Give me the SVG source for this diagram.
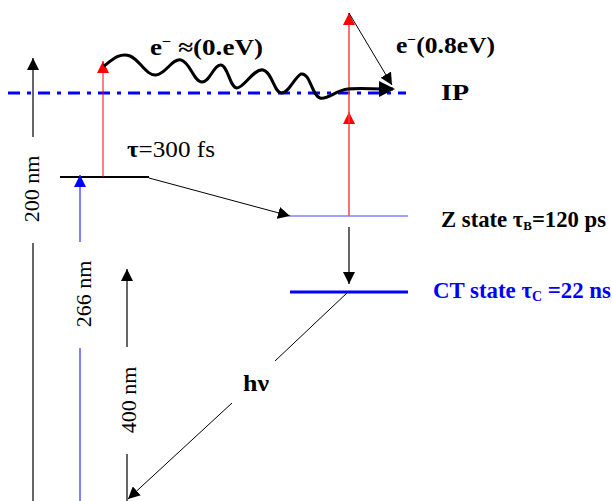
<svg xmlns="http://www.w3.org/2000/svg" width="612" height="501" viewBox="0 0 612 501">
<style>
text{font-family:"Liberation Serif","Times New Roman",serif;fill:#000}
.b{font-weight:bold}
.blue{fill:#0000ff}
.thin{fill:none;stroke:#000;stroke-width:1}
</style>
<defs>
<marker id="ak" viewBox="0 0 12 12" refX="12" refY="6" markerWidth="12" markerHeight="12" orient="auto" markerUnits="userSpaceOnUse"><path d="M0,0 L12,6 L0,12 z" fill="#000"/></marker>
<marker id="ar" viewBox="0 0 12 12" refX="12" refY="6" markerWidth="12" markerHeight="12" orient="auto" markerUnits="userSpaceOnUse"><path d="M0,0 L12,6 L0,12 z" fill="#ff0000"/></marker>
<marker id="ab" viewBox="0 0 12 12" refX="12" refY="6" markerWidth="12" markerHeight="12" orient="auto" markerUnits="userSpaceOnUse"><path d="M0,0 L12,6 L0,12 z" fill="#0000ff"/></marker>
<marker id="abig" viewBox="0 0 16 16" refX="14" refY="8" markerWidth="16" markerHeight="16" orient="auto" markerUnits="userSpaceOnUse"><path d="M0,0 L16,8 L0,16 z" fill="#000"/></marker>
</defs>
<rect width="612" height="501" fill="#fff"/>

<g id="ip-level">
<line x1="8" y1="93" x2="406" y2="93" stroke="#0000ff" stroke-width="3" stroke-dasharray="12 7 4 7"/>
<text class="b" x="441" y="100" font-size="23" textLength="28" lengthAdjust="spacingAndGlyphs">IP</text>
</g>

<g id="s1-level">
<line x1="60" y1="177" x2="149" y2="177" stroke="#000" stroke-width="2"/>
<text x="127" y="157" font-size="23" textLength="88" lengthAdjust="spacingAndGlyphs"><tspan class="b">τ</tspan>=300 fs</text>
</g>

<g id="z-state">
<line x1="290" y1="216" x2="408" y2="216" stroke="#4444ff" stroke-width="1.2"/>
<text class="b" x="441" y="227" font-size="23" textLength="165" lengthAdjust="spacingAndGlyphs">Z state τ<tspan font-size="13" dy="3">B</tspan><tspan dy="-3">=120 ps</tspan></text>
</g>

<g id="ct-state">
<line x1="290" y1="292" x2="408" y2="292" stroke="#0000ff" stroke-width="3"/>
<text class="b blue" x="433" y="298" font-size="23" textLength="178" lengthAdjust="spacingAndGlyphs">CT state τ<tspan font-size="14" dy="3">C</tspan><tspan dy="-3"> =22 ns</tspan></text>
</g>

<g id="electron-slow">
<text class="b" x="150" y="55" font-size="23" textLength="113" lengthAdjust="spacingAndGlyphs">e<tspan font-size="14" dy="-9">−</tspan><tspan dy="9"> ≈(0.eV)</tspan></text>
</g>

<g id="electron-fast">
<text class="b" x="396" y="53" font-size="23" textLength="99" lengthAdjust="spacingAndGlyphs">e<tspan font-size="14" dy="-9">−</tspan><tspan dy="9">(0.8eV)</tspan></text>
</g>

<g id="labels-nm">
<text transform="translate(39,189) rotate(-90)" font-size="22" text-anchor="middle">200 nm</text>
<text transform="translate(91,294) rotate(-90)" font-size="22" text-anchor="middle">266 nm</text>
<text transform="translate(136,400) rotate(-90)" font-size="22" text-anchor="middle">400 nm</text>
<text class="b" x="243" y="391" font-size="23" textLength="26" lengthAdjust="spacingAndGlyphs">hν</text>
</g>

<g id="connectors">
<line x1="33" y1="137" x2="33" y2="58" stroke="#333" stroke-width="1.5" marker-end="url(#ak)"/>
<line x1="33" y1="243" x2="33" y2="501" stroke="#333" stroke-width="1.5"/>
<line x1="80" y1="242" x2="80" y2="175" stroke="#5555ff" stroke-width="1.5" marker-end="url(#ab)"/>
<line x1="80" y1="348" x2="80" y2="501" stroke="#5555ff" stroke-width="1.5"/>
<line x1="127" y1="347" x2="127" y2="269" stroke="#000" stroke-width="1.2" marker-end="url(#ak)"/>
<line x1="127" y1="454" x2="127" y2="501" stroke="#000" stroke-width="1.2"/>
<line x1="103" y1="177" x2="103" y2="61" stroke="#ff0000" stroke-width="1" marker-end="url(#ar)"/>
<line x1="149" y1="178" x2="290" y2="216" class="thin" marker-end="url(#ak)"/>
<line x1="349" y1="216" x2="349" y2="112" stroke="#ff4040" stroke-width="1.5" marker-end="url(#ar)"/>
<line x1="349" y1="123" x2="349" y2="13" stroke="#ff4040" stroke-width="1.5" marker-end="url(#ar)"/>
<line x1="349" y1="13" x2="392" y2="85" class="thin" marker-end="url(#ak)"/>
<path d="M104,66 C112,60 120,52 130,56 C140,60 146,76 156,75 C166,74 172,58 181,60 C190,62 194,82 202,82 C210,82 214,64 221,65 C228,66 230,88 237,88 C244,88 254,68 263,70 C272,72 274,92 281,93 C288,94 294,78 301,74 C310,72 312,96 320,98 C328,100 336,90 348,89 C360,88 370,89 393,89" fill="none" stroke="#000" stroke-width="3" marker-end="url(#abig)"/>
<line x1="349" y1="227" x2="349" y2="284" stroke="#000" stroke-width="1.2" marker-end="url(#ak)"/>
<line x1="348" y1="292" x2="275" y2="361" class="thin"/>
<line x1="232" y1="403" x2="128" y2="499" class="thin" marker-end="url(#ak)"/>
</g>
</svg>
